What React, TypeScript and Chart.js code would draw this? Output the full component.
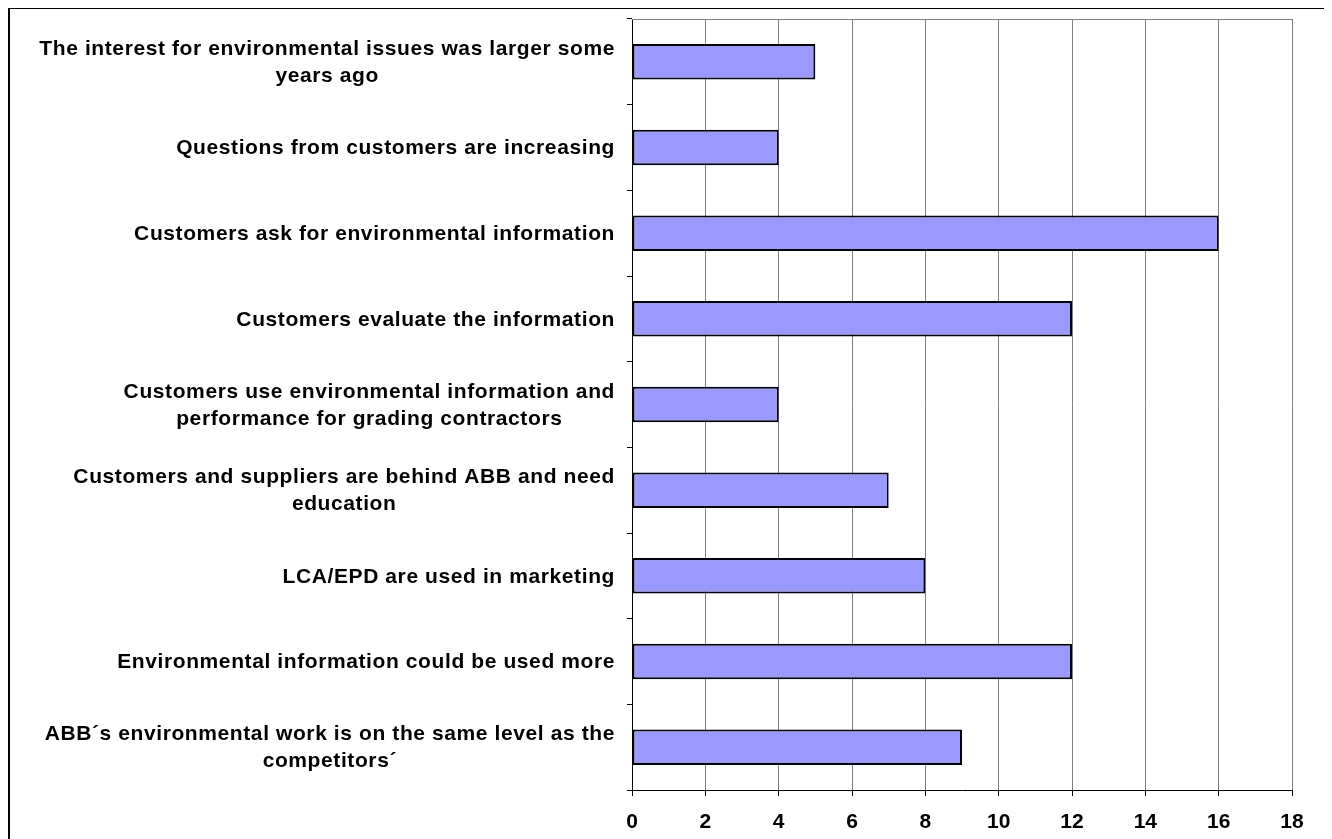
import React, { useEffect, useRef } from "react";
import { Chart, registerables } from "chart.js";

Chart.register(...registerables);

const categoryLabels: string[][] = [
  ["The interest for environmental issues was larger some", "years ago"],
  ["Questions from customers are increasing"],
  ["Customers ask for environmental information"],
  ["Customers evaluate the information"],
  ["Customers use environmental information and", "performance for grading contractors"],
  ["Customers and suppliers are behind ABB and need", "education"],
  ["LCA/EPD are used in marketing"],
  ["Environmental information could be used more"],
  ["ABB´s environmental work is on the same level as the", "competitors´"],
];

const seriesValues: number[] = [5, 4, 16, 12, 4, 7, 8, 12, 9];

const xTickMin = 0;
const xTickMax = 18;
const xTickStep = 2;

const FONT_FAMILY = '"Liberation Sans", Arial, Helvetica, sans-serif';

const labelPlugin = {
  id: "excelLabels",
  afterDraw(chart: any) {
    const { ctx, chartArea } = chart;
    const yScale = chart.scales.y;
    ctx.save();
    // top border of plot area (grey)
    ctx.strokeStyle = "#808080";
    ctx.lineWidth = 1;
    ctx.beginPath();
    ctx.moveTo(chartArea.left, chartArea.top + 0.5);
    ctx.lineTo(chartArea.right, chartArea.top + 0.5);
    ctx.stroke();

    ctx.font = `bold 21px ${FONT_FAMILY}`;
    try {
      (ctx as any).letterSpacing = "0.6px";
    } catch (e) {}
    ctx.fillStyle = "#000";
    ctx.textAlign = "center";
    ctx.textBaseline = "middle";
    const rightX = chartArea.left - 17;
    const lineH = 27;
    categoryLabels.forEach((lines, i) => {
      const yc = yScale.getPixelForValue(i) + 1;
      const widths = lines.map((l) => ctx.measureText(l).width);
      const blockW = Math.max(...widths);
      const cx = rightX - blockW / 2;
      lines.forEach((line, j) => {
        const y = yc + (j - (lines.length - 1) / 2) * lineH;
        ctx.fillText(line, cx, y);
      });
    });
    ctx.restore();
  },
};

export default function App() {
  const canvasRef = useRef<HTMLCanvasElement | null>(null);

  useEffect(() => {
    const canvas = canvasRef.current;
    if (!canvas) return;
    const chart = new Chart(canvas, {
      type: "bar",
      data: {
        labels: categoryLabels.map((l) => l.join(" ")),
        datasets: [
          {
            data: seriesValues,
            backgroundColor: "#9999FF",
            borderColor: "#000000",
            borderWidth: 2,
            borderSkipped: false,
            barPercentage: 0.415,
            categoryPercentage: 1,
          },
        ],
      },
      options: {
        indexAxis: "y",
        responsive: false,
        animation: false,
        layout: { padding: { top: 10, right: 32, bottom: 8, left: 0 } },
        plugins: {
          legend: { display: false },
          tooltip: { enabled: false },
          title: { display: false },
        },
        scales: {
          x: {
            type: "linear",
            min: xTickMin,
            max: xTickMax,
            ticks: {
              stepSize: xTickStep,
              color: "#000",
              padding: 14,
              font: { family: FONT_FAMILY, size: 21, weight: "bold" },
            },
            grid: {
              color: "#808080",
              lineWidth: 1,
              tickColor: "#000",
              tickLength: 6,
            },
            border: { color: "#000", width: 1 },
            afterFit(scale: any) {
              scale.height = 60;
            },
          },
          y: {
            type: "category",
            ticks: { display: false },
            grid: {
              drawOnChartArea: false,
              drawTicks: true,
              tickLength: 5,
              color: "#000",
              offset: true,
            },
            border: { color: "#000", width: 1 },
            afterFit(scale: any) {
              scale.width = 622;
            },
          },
        },
      } as any,
      plugins: [labelPlugin],
    });
    return () => chart.destroy();
  }, []);

  return (
    <div
      style={{
        width: 1318,
        height: 853,
        marginTop: -1,
        border: "2px solid #000",
        boxSizing: "border-box",
        background: "#fff",
      }}
    >
      <canvas
        ref={canvasRef}
        width={1314}
        height={849}
        style={{ display: "block", width: 1314, height: 849 }}
      />
    </div>
  );
}
